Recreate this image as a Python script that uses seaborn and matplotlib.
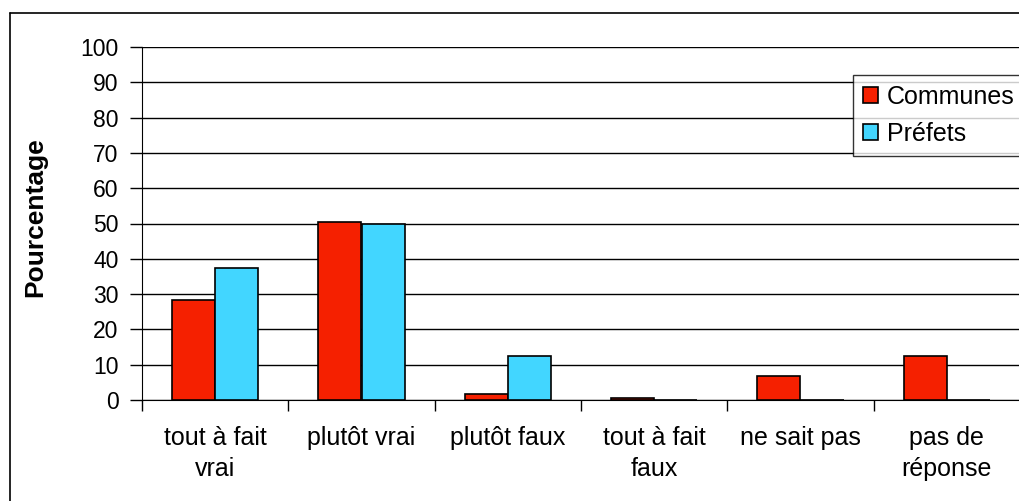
import pandas as pd
import seaborn as sns
import matplotlib.pyplot as plt
from matplotlib.lines import Line2D

categories = ["tout à fait\nvrai", "plutôt vrai", "plutôt faux",
              "tout à fait\nfaux", "ne sait pas", "pas de\nréponse"]
communes = [28.2, 50.3, 1.7, 0.7, 6.8, 12.5]
prefets = [37.3, 49.9, 12.4, 0.0, 0.0, 0.0]
series = ["Communes", "Préfets"]
colors = ["#f52000", "#42d6ff"]

df = pd.DataFrame({
    "categorie": categories * 2,
    "valeur": communes + prefets,
    "serie": [series[0]] * len(categories) + [series[1]] * len(categories),
})

sns.set_style("white")
plt.rcParams["font.family"] = ["Liberation Sans", "DejaVu Sans"]
plt.rcParams["text.color"] = "black"
plt.rcParams["axes.labelcolor"] = "black"
plt.rcParams["xtick.color"] = "black"
plt.rcParams["ytick.color"] = "black"

fig = plt.figure(figsize=(10.2, 5.01), dpi=100)
ax = fig.add_axes([142 / 1020, 1 - 400 / 501, 1 - 142 / 1020, 353 / 501])

sns.barplot(data=df, x="categorie", y="valeur", hue="serie", order=categories,
            hue_order=series, palette=colors, width=0.59, saturation=1,
            edgecolor="black", linewidth=1.2, ax=ax, zorder=3)

ax.set_ylim(0, 100)
ax.set_yticks(range(0, 101, 10))
ax.set_xlim(-0.5, 5.5)
ax.yaxis.grid(True, color="black", linewidth=1)
ax.set_axisbelow(True)

# ticks between categories
ax.set_xticks([i + 0.5 for i in range(-1, 6)], minor=True)
ax.set_xticks(range(6))
ax.set_xticklabels(categories, linespacing=1.35)
ax.tick_params(axis="x", which="major", length=0, labelsize=18, pad=19)
ax.tick_params(axis="x", which="minor", length=8, width=1, color="black",
               direction="out", bottom=True)
ax.tick_params(axis="y", length=9, width=1, color="black", direction="out",
               left=True, labelsize=16.5, pad=8)

for s in ["top", "right"]:
    ax.spines[s].set_visible(False)
ax.spines["left"].set_color("black")
ax.spines["bottom"].set_color("black")

ax.set_xlabel("")
ax.set_ylabel("Pourcentage", fontsize=19, fontweight="bold")
ax.yaxis.set_label_coords(-0.108, 0.517)

leg = ax.legend(loc="upper right", bbox_to_anchor=(1.005, 0.92), fontsize=18,
                frameon=True, fancybox=False, edgecolor="black",
                handlelength=0.6, handleheight=0.6, handletextpad=0.35,
                labelspacing=0.5, borderpad=0.4, borderaxespad=0)
leg.get_frame().set_linewidth(1)

# outer chart border
fig.add_artist(Line2D([10 / 1020, 10 / 1020], [0, 1 - 13 / 501], color="black",
                      linewidth=1.2, transform=fig.transFigure))
fig.add_artist(Line2D([10 / 1020, 1], [1 - 13 / 501, 1 - 13 / 501], color="black",
                      linewidth=1.2, transform=fig.transFigure))

fig.savefig("out.png", dpi=100)
